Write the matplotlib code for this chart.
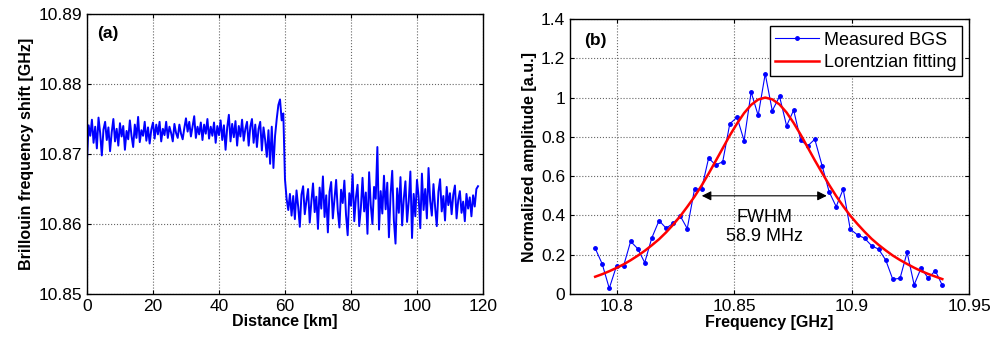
import numpy as np
import matplotlib
matplotlib.use("Agg")
import matplotlib.pyplot as plt

plt.rcParams['font.family'] = ['Liberation Sans', 'DejaVu Sans']

# (a) Brillouin frequency shift along the fibre, MHz, sampled every 0.5 km
dist_step_km = 0.5
bfs_mhz = [
    # 0 - 10 km
    10869.0, 10874.1, 10872.6, 10874.9, 10871.6, 10873.9, 10870.8, 10875.2, 10873.0, 10869.8,
    10873.5, 10874.6, 10872.0, 10873.8, 10870.4, 10873.1, 10875.0, 10871.8, 10873.6, 10871.2, 10874.4,
    # 10 - 20 km
    10872.5, 10874.0, 10870.6, 10873.3, 10872.1, 10874.8, 10872.6, 10871.0, 10874.2, 10872.3,
    10875.3, 10871.7, 10873.4, 10872.6, 10874.6, 10871.9, 10873.8, 10871.5, 10873.5, 10874.5,
    # 20 - 30 km
    10872.2, 10874.2, 10872.8, 10874.6, 10871.8, 10873.6, 10872.7, 10874.6, 10872.3, 10873.9,
    10873.0, 10871.8, 10874.3, 10873.0, 10872.3, 10874.2, 10872.9, 10872.1, 10873.7, 10875.1,
    # 30 - 40 km
    10873.2, 10874.6, 10872.5, 10874.0, 10875.4, 10872.3, 10873.9, 10872.8, 10874.5, 10872.0,
    10874.2, 10872.9, 10875.0, 10872.2, 10873.9, 10872.6, 10874.5, 10871.6, 10874.0, 10872.7,
    # 40 - 50 km
    10874.8, 10872.0, 10874.1, 10870.6, 10873.8, 10875.6, 10871.8, 10874.3, 10872.4, 10874.7,
    10871.2, 10874.0, 10872.5, 10874.9, 10871.9, 10873.6, 10874.6, 10871.2, 10873.9, 10875.0,
    # 50 - 57 km
    10871.6, 10874.2, 10871.0, 10873.6, 10874.6, 10870.5, 10873.8, 10872.0, 10869.6, 10873.4,
    10868.6, 10873.9, 10868.0, 10872.6,
    # 57.5 - 60 km (splice region)
    10875.0, 10877.0, 10877.8, 10874.8, 10875.8, 10866.4,
    # 60.5 - 70 km
    10863.6, 10862.0, 10864.3, 10861.2, 10864.0, 10860.7, 10864.8, 10862.5, 10859.6, 10864.2,
    10865.4, 10861.4, 10863.3, 10865.0, 10860.2, 10863.2, 10865.8, 10861.7, 10863.9, 10859.3,
    # 70 - 80 km
    10865.2, 10862.2, 10866.8, 10861.0, 10864.1, 10858.8, 10864.6, 10866.0, 10860.8, 10863.5,
    10866.3, 10861.9, 10859.5, 10864.9, 10863.0, 10866.2, 10861.3, 10858.4, 10864.4, 10862.6,
    # 80 - 90 km
    10867.1, 10860.4, 10863.8, 10865.6, 10859.7, 10862.3, 10866.6, 10861.8, 10864.5, 10858.6,
    10867.4, 10862.7, 10860.0, 10865.3, 10863.6, 10871.0, 10859.2, 10864.7, 10861.5, 10866.9,
    # 90 - 100 km
    10862.1, 10865.9, 10858.1, 10864.2, 10867.6, 10860.5, 10857.2, 10865.1, 10861.6, 10866.7,
    10859.8, 10863.6, 10866.1, 10860.3, 10863.2, 10867.5, 10858.0, 10864.3, 10861.1, 10866.3,
    # 100 - 110 km
    10863.9, 10859.4, 10867.2, 10862.0, 10865.0, 10860.8, 10868.0, 10863.3, 10861.2, 10865.7,
    10862.4, 10859.7, 10864.6, 10866.4, 10861.8, 10864.0, 10860.5, 10865.3, 10862.7, 10864.4,
    # 110 - 118.5 km
    10861.4, 10864.2, 10865.5, 10860.8, 10863.4, 10864.7, 10861.6, 10863.2, 10860.4, 10864.3,
    10862.2, 10863.8, 10861.1, 10864.1, 10862.5, 10865.0, 10865.4,
]

# (b) measured Brillouin gain spectrum and its Lorentzian fit
freq_ghz = [
    10.7907, 10.7937, 10.7967, 10.7998, 10.8028, 10.8058, 10.8088, 10.8118, 10.8148, 10.8179,
    10.8209, 10.8239, 10.8269, 10.8299, 10.8330, 10.8360, 10.8390, 10.8420, 10.8450, 10.8480,
    10.8511, 10.8541, 10.8571, 10.8601, 10.8631, 10.8661, 10.8692, 10.8722, 10.8752, 10.8782,
    10.8812, 10.8842, 10.8873, 10.8903, 10.8933, 10.8963, 10.8993, 10.9024, 10.9054, 10.9084,
    10.9114, 10.9144, 10.9174, 10.9205, 10.9235, 10.9265, 10.9295, 10.9325, 10.9355, 10.9385,
]
bgs_measured = [
    0.233, 0.153, 0.029, 0.143, 0.143, 0.268, 0.231, 0.160, 0.285, 0.374,
    0.335, 0.360, 0.398, 0.333, 0.534, 0.534, 0.692, 0.657, 0.673, 0.866,
    0.900, 0.781, 1.028, 0.909, 1.121, 0.933, 1.006, 0.856, 0.936, 0.783,
    0.754, 0.788, 0.654, 0.521, 0.445, 0.534, 0.330, 0.301, 0.284, 0.246,
    0.228, 0.173, 0.075, 0.080, 0.212, 0.047, 0.133, 0.080, 0.119, 0.044,
]
bgs_fit = [
    0.088, 0.101, 0.116, 0.133, 0.151, 0.172, 0.195, 0.220, 0.248, 0.279,
    0.314, 0.353, 0.396, 0.444, 0.496, 0.552, 0.613, 0.677, 0.742, 0.807,
    0.868, 0.921, 0.963, 0.990, 1.000, 0.991, 0.965, 0.924, 0.871, 0.811,
    0.746, 0.681, 0.617, 0.556, 0.499, 0.447, 0.399, 0.356, 0.317, 0.281,
    0.250, 0.222, 0.196, 0.173, 0.153, 0.134, 0.117, 0.102, 0.089, 0.076,
]
fwhm_left, fwhm_right, fwhm_level = 10.8361, 10.8893, 0.50
fwhm_text = "FWHM\n58.9 MHz"


def matlab_style(ax):
    ax.tick_params(direction="in", top=True, right=True, labelsize=12.5, length=3, width=0.8)
    ax.grid(True, linestyle=":", color="#666666", linewidth=0.8)
    for s in ax.spines.values():
        s.set_linewidth(1.0)


fig = plt.figure(figsize=(9.95, 3.44), dpi=100)

# left panel
ax1 = fig.add_axes([0.0874, 0.1453, 0.3980, 0.8140])
dist_km = np.arange(len(bfs_mhz)) * dist_step_km
ax1.plot(dist_km, np.array(bfs_mhz) / 1000.0, color=(0, 0, 1), linewidth=1.4)
ax1.set_xlim(0, 120)
ax1.set_ylim(10.85, 10.89)
ax1.set_xticks(np.arange(0, 121, 20))
ax1.set_yticks([10.85, 10.86, 10.87, 10.88, 10.89])
ax1.set_yticklabels(["10.85", "10.86", "10.87", "10.88", "10.89"])
matlab_style(ax1)
ax1.set_xlabel("Distance [km]", fontsize=11.5, fontweight="bold", labelpad=0)
ax1.set_ylabel("Brillouin frequency shift [GHz]", fontsize=11.5, fontweight="bold", labelpad=3)
ax1.text(0.025, 0.915, "(a)", transform=ax1.transAxes, fontsize=12.5, fontweight="bold")

# right panel
ax2 = fig.add_axes([0.5729, 0.1453, 0.4013, 0.7994])
ax2.plot(freq_ghz, bgs_measured, color=(0, 0, 1), linewidth=0.8, marker=".",
         markersize=5, label="Measured BGS")
ax2.plot(freq_ghz, bgs_fit, color=(1, 0, 0), linewidth=1.8, label="Lorentzian fitting")
ax2.set_xlim(10.78, 10.95)
ax2.set_ylim(0, 1.4)
ax2.set_xticks([10.8, 10.85, 10.9, 10.95])
ax2.set_xticklabels(["10.8", "10.85", "10.9", "10.95"])
ax2.set_yticks([0, 0.2, 0.4, 0.6, 0.8, 1.0, 1.2, 1.4])
ax2.set_yticklabels(["0", "0.2", "0.4", "0.6", "0.8", "1", "1.2", "1.4"])
matlab_style(ax2)
ax2.set_xlabel("Frequency [GHz]", fontsize=11.5, fontweight="bold", labelpad=1)
ax2.set_ylabel("Normalized amplitude [a.u.]", fontsize=11.5, fontweight="bold", labelpad=3)
ax2.text(0.035, 0.905, "(b)", transform=ax2.transAxes, fontsize=12.5, fontweight="bold")

ax2.annotate("", xy=(fwhm_left, fwhm_level), xytext=(fwhm_right, fwhm_level),
             arrowprops=dict(arrowstyle="<|-|>", color="black", linewidth=0.8,
                             mutation_scale=14, shrinkA=0, shrinkB=0))
ax2.text((fwhm_left + fwhm_right) / 2, 0.34, fwhm_text, ha="center", va="center",
         fontsize=13, linespacing=1.15)

leg = ax2.legend(loc="upper right", fontsize=13, fancybox=False, framealpha=1,
                 edgecolor="black", borderpad=0.3, labelspacing=0.3,
                 handlelength=2.4, handletextpad=0.3, borderaxespad=0.4)
leg.get_frame().set_linewidth(1.0)

fig.savefig("out.png", dpi=100)
